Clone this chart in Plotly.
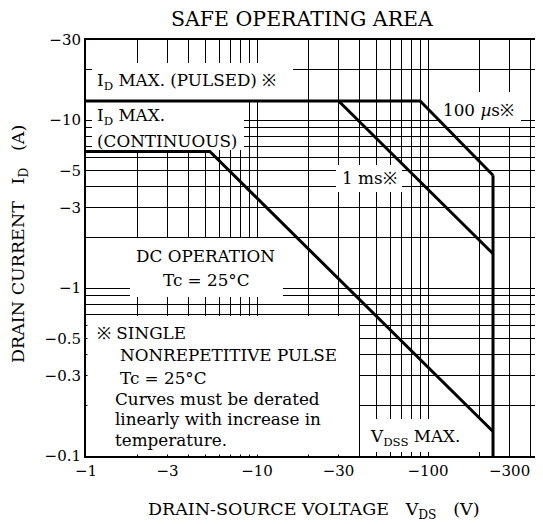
import math
import plotly.graph_objects as go

# ---------------- data ----------------
pulsed_vds = [1, 90]          # I_D MAX (pulsed) plateau
pulsed_id = [13, 13]
us100_vds = [90, 240]         # 100 us limit
us100_id = [13, 4.7]
ms1_vds = [30, 240]           # 1 ms limit
ms1_id = [13, 1.6]
dc_vds = [1, 5.3, 240]        # DC operation (I_D MAX continuous + power limit)
dc_id = [6.5, 6.5, 0.14]
vdss_vds = [240, 240]         # V_DSS MAX
vdss_id = [4.7, 0.1]

x_grid = [1, 2, 3, 4, 5, 6, 7, 8, 9,
          10, 20, 30, 40, 50, 60, 70, 80, 90,
          100, 200, 300, 400, 500]
x_labels = ["−1", "", "−3", "", "", "", "", "", "",
            "−10", "", "−30", "", "", "", "", "", "",
            "−100", "", "−300", "", ""]
y_grid = [0.1, 0.2, 0.3, 0.4, 0.5, 0.6, 0.7, 0.8, 0.9,
          1, 2, 3, 4, 5, 6, 7, 8, 9,
          10, 20, 30]
y_labels = ["−0.1", "", "−0.3", "", "−0.5", "", "", "", "",
            "−1", "", "−3", "", "−5", "", "", "", "",
            "−10", "", "−30"]

# ---------------- geometry (reference pixel frame) ----------------
OFF = 8                      # page body margin of the html page
W, H = 543 - OFF, 524 - OFF
L, R, T, B = 86, 543, 40, 456
X_DEC = 171.0
x_max_log = (R - L) / X_DEC
y_range = [-1, math.log10(30)]
Y_DEC = (B - T) / (y_range[1] - y_range[0])

def fx(p):
    return (p - L) / (R - L)

def fy(p):
    return (B - p) / (B - T)

def dx(p):
    return 10 ** ((p - L) / X_DEC)

def dy(p):
    return 10 ** (y_range[1] - (p - T) / Y_DEC)

FONT = "DejaVu Serif"
BLACK = "#000000"

fig = go.Figure()

# white label backgrounds that hide the grid (pixel boxes)
masks = [
    (92, 63, 293, 100),    # I_D MAX (PULSED)
    (92, 100, 244, 150),   # I_D MAX (CONTINUOUS)
    (92, 238, 283, 283),   # DC OPERATION
    (130, 283, 283, 297),
    (87.5, 316, 359, 454.5),  # note box
    (362, 419, 489, 452),  # V_DSS MAX
    (336, 165, 402, 192),  # 1 ms
    (438, 92, 521, 127),   # 100 us
]
for x0, y0, x1, y1 in masks:
    fig.add_trace(go.Scatter(
        x=[dx(x0), dx(x1), dx(x1), dx(x0), dx(x0)],
        y=[dy(y0), dy(y0), dy(y1), dy(y1), dy(y0)],
        mode="lines", fill="toself", fillcolor="white",
        line=dict(width=0, color="white"),
        hoverinfo="skip", showlegend=False))

def curve(xs, ys):
    fig.add_trace(go.Scatter(x=xs, y=ys, mode="lines",
                             line=dict(color=BLACK, width=3),
                             hoverinfo="skip", showlegend=False))

curve(pulsed_vds, pulsed_id)
curve(us100_vds, us100_id)
curve(ms1_vds, ms1_id)
curve(dc_vds, dc_id)
curve(vdss_vds, vdss_id)

annotations = []

def label(text, xp, yp, size=16.8, xanchor="left", textangle=0, yanchor="middle"):
    annotations.append(dict(text=text, xref="paper", yref="paper",
                            x=fx(xp), y=fy(yp), xanchor=xanchor, yanchor=yanchor,
                            showarrow=False, textangle=textangle, borderpad=0,
                            font=dict(family=FONT, size=size, color=BLACK)))

label("SAFE OPERATING AREA", 302, 19, size=20.5, xanchor="center")
label("I<sub>D</sub> MAX. (PULSED) ※", 96, 82)
label("I<sub>D</sub> MAX.", 96, 129, yanchor="bottom")
label("(CONTINUOUS)", 96, 130, yanchor="top")
label("100 <i>µ</i>s※", 442, 110)
label("1 ms※", 341, 178)
label("DC OPERATION", 205, 256, xanchor="center")
label("Tc = 25°C", 206, 280, xanchor="center")
label("※ SINGLE", 96, 333)
label("NONREPETITIVE PULSE", 119, 355)
label("Tc = 25°C", 119, 378)
label("Curves must be derated", 114, 399)
label("linearly with increase in", 114, 419)
label("temperature.", 114, 440)
label("V<sub>DSS</sub> MAX.", 369, 437)
label("DRAIN-SOURCE VOLTAGE   V<sub>DS</sub>   (V)", 313, 510, size=17.5, xanchor="center")
label("DRAIN CURRENT   I<sub>D</sub>   (A)", 19, 244, size=17.5, xanchor="center", textangle=-90)

axis_common = dict(type="log", showgrid=True, gridcolor=BLACK, gridwidth=1,
                   showline=True, linecolor=BLACK, linewidth=2,
                   ticks="", zeroline=False,
                   tickfont=dict(family=FONT, size=15, color=BLACK))

fig.update_layout(
    width=W, height=H,
    margin=dict(l=L - OFF, r=(543 - R), t=T - OFF, b=(524 - B), pad=0),
    paper_bgcolor="white", plot_bgcolor="white",
    showlegend=False,
    xaxis=dict(range=[0, x_max_log], tickvals=x_grid, ticktext=x_labels,
               mirror=True, **axis_common),
    yaxis=dict(range=y_range, tickvals=y_grid, ticktext=y_labels,
               mirror=False, **axis_common),
    annotations=annotations,
)

fig.write_html("out.html")
